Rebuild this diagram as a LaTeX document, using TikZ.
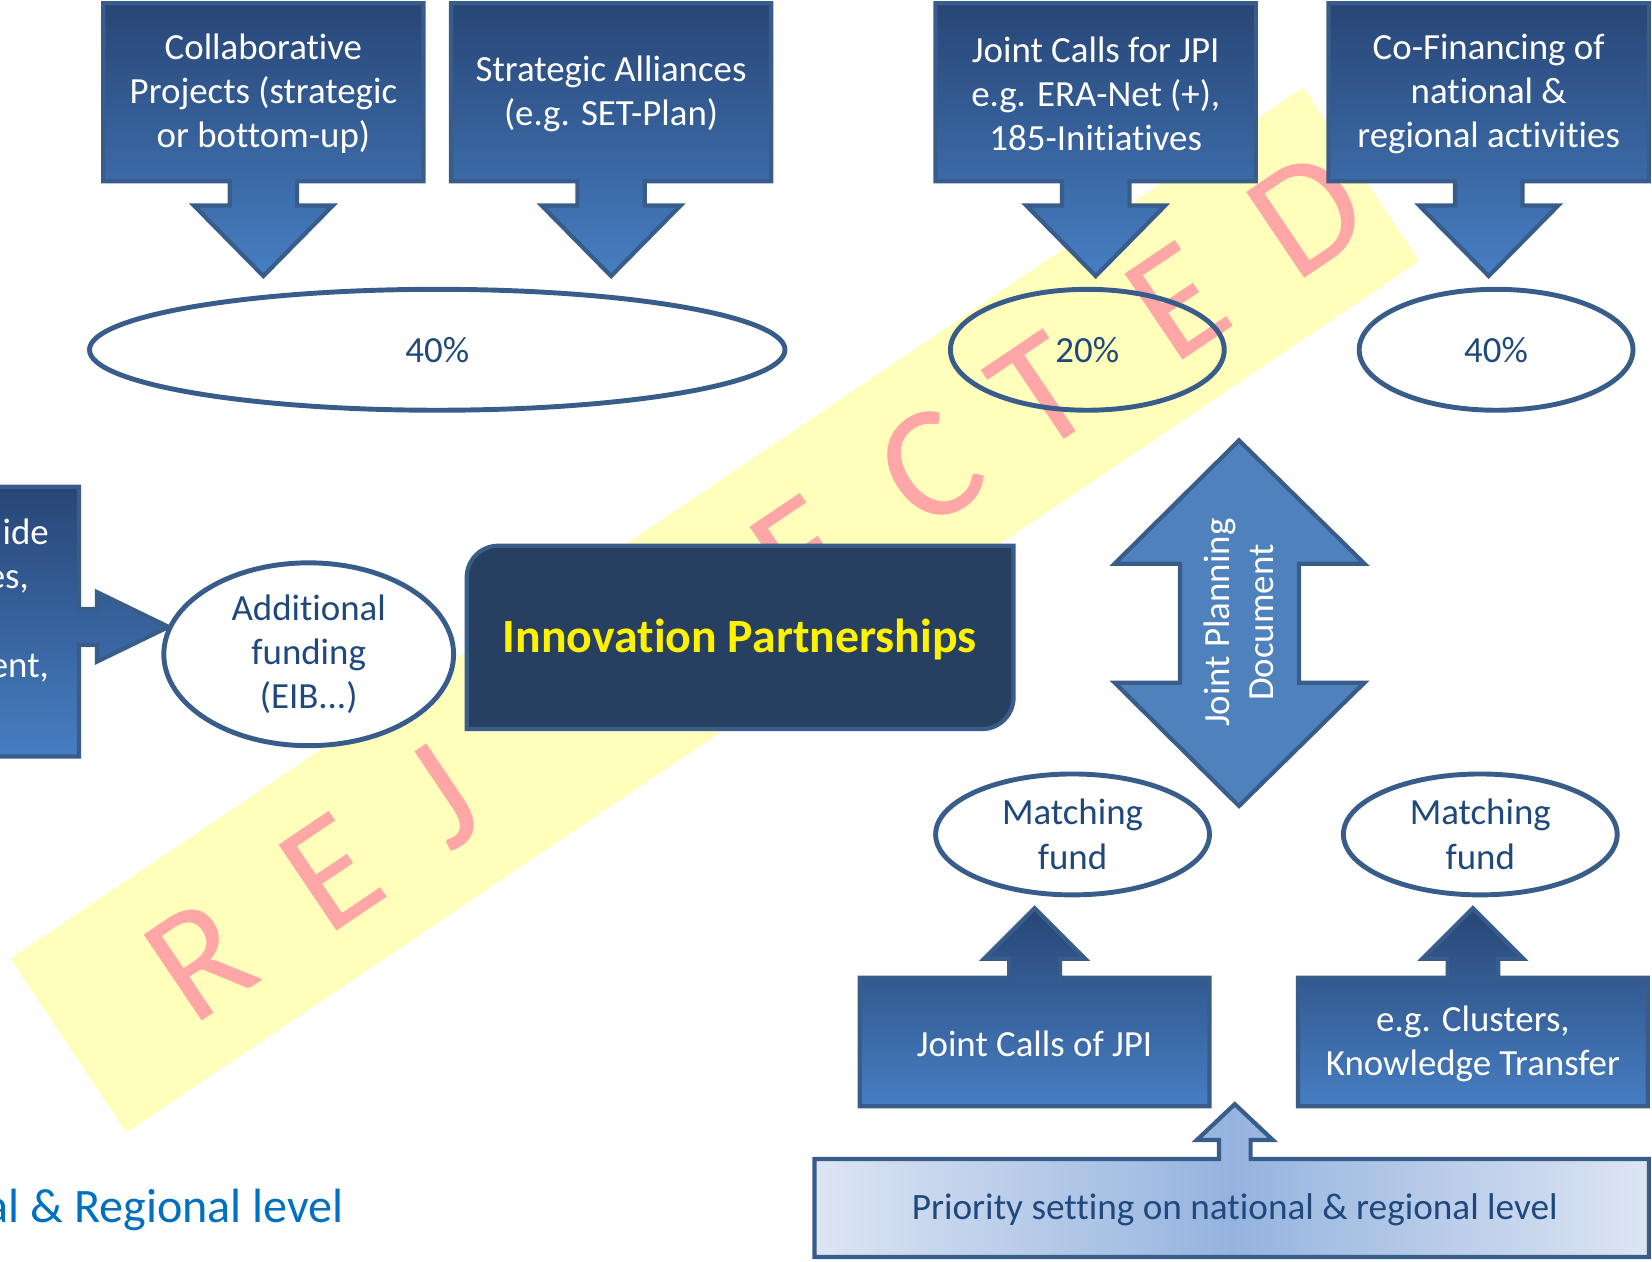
\documentclass[tikz,border=0pt]{standalone}
\usepackage{fontspec}
\setmainfont{Carlito}[Ligatures=NoCommon]
\usetikzlibrary{shapes.geometric}

\definecolor{boxtop}{RGB}{40,70,118}
\definecolor{boxbot}{RGB}{70,126,194}
\definecolor{boxline}{RGB}{56,93,138}
\definecolor{ovaltext}{RGB}{31,73,125}
\definecolor{arrowfill}{RGB}{79,129,189}
\definecolor{ipfill}{RGB}{39,64,97}
\definecolor{stampband}{RGB}{255,255,187}
\definecolor{stamppink}{RGB}{255,166,166}
\definecolor{levelblue}{RGB}{0,112,192}
\definecolor{prioedge}{RGB}{221,229,243}
\definecolor{priomid}{RGB}{149,179,223}

\begin{document}
\begin{tikzpicture}[x=0.01054cm, y=-0.01054cm,
    blockshape/.style={top color=boxtop, bottom color=boxbot, draw=boxline, line width=1.2pt},
    boxtext/.style={text=white, align=center, font=\fontsize{10.5}{12.6}\selectfont},
    ovalnode/.style={ellipse, draw=boxline, line width=1.4pt, inner sep=0pt, text=ovaltext, align=center, font=\fontsize{10.5}{12.6}\selectfont},
    stampchar/.style={text=stamppink, rotate=34, inner sep=0pt, font=\fontsize{46}{46}\selectfont}]

    \useasboundingbox (0,0) rectangle (1568,1197);

    % stamp across the slide
    \fill[stampband] (10,910) -- (120,1075) -- (1347,248) -- (1237,83) -- cycle;
    \foreach \l/\x/\y [count=\i] in {R/190/911, E/314/828, J/420/756, E/761/526, C/883/444, T/988/373, E/1117/286, D/1241/203}
      \node[stampchar] (w\i) at (\x,\y) {\l};

    % top row
    \foreach \cx/\name/\txt in {250/collab/{Collaborative\\Projects (strategic\\or bottom-up)},
                                580/alliance/{Strategic Alliances\\(e.g. SET-Plan)},
                                1040/jointcall/{Joint Calls for JPI\\e.g. ERA-Net (+),\\185-Initiatives},
                                1413/cofin/{Co-Financing of\\national \&\\regional activities}} {
      \draw[blockshape] (\cx-152,3) -- (\cx+152,3) -- (\cx+152,172) -- (\cx+32,172) -- (\cx+32,195) -- (\cx+66,195) -- (\cx,262)
        -- (\cx-66,195) -- (\cx-32,195) -- (\cx-32,172) -- (\cx-152,172) -- cycle;
      \node[boxtext] (\name) at (\cx,89) {\txt};
    }

    \node[ovalnode, minimum width=6.96cm, minimum height=1.21cm] (left40) at (415,332) {40\%};
    \node[ovalnode, minimum width=2.74cm, minimum height=1.21cm] (mid20) at (1032,332) {20\%};
    \node[ovalnode, minimum width=2.74cm, minimum height=1.21cm] (right40) at (1420,332) {40\%};

    % left side
    \draw[blockshape] (-230,462) -- (75,462) -- (75,578) -- (92,578) -- (92,562) -- (160,595) -- (92,628) -- (92,612)
      -- (75,612) -- (75,718) -- (-230,718) -- cycle;
    \node[boxtext, anchor=north east, align=right, inner sep=0pt] (leftbox) at (47,492) {ide\\es,\makebox[0.2cm]{}\\\mbox{}\\ent,};
    \node[ovalnode, fill=white, minimum width=2.9cm, minimum height=1.83cm] (addfund) at (293,621) {Additional\\funding\\(EIB...)};

    \draw[fill=ipfill, draw=boxline, line width=1.2pt] (443,692) -- (443,548) .. controls (443,531.4) and (456.4,518) .. (473,518)
      -- (962,518) -- (962,662) .. controls (962,678.6) and (948.6,692) .. (932,692) -- cycle;
    \node[text=yellow, font=\bfseries\fontsize{13.6}{16}\selectfont] (innov) at (702,607) {Innovation Partnerships};

    % right side
    \draw[fill=arrowfill, draw=boxline, line width=1.2pt] (1176,418) -- (1295,535) -- (1233,535) -- (1233,648) -- (1295,648)
      -- (1176,765) -- (1058,648) -- (1120,648) -- (1120,535) -- (1058,535) -- cycle;
    \node[boxtext, rotate=90] (jpd) at (1176,591) {Joint Planning\\Document};

    \node[ovalnode, fill=white, minimum width=2.74cm, minimum height=1.21cm] (matchl) at (1018,792) {Matching\\fund};
    \node[ovalnode, fill=white, minimum width=2.74cm, minimum height=1.21cm] (matchr) at (1405,792) {Matching\\fund};

    \foreach \cx/\name/\txt in {982/jpicall/{Joint Calls of JPI}, 1398/cluster/{e.g. Clusters,\\Knowledge Transfer}} {
      \draw[blockshape] (\cx,862) -- (\cx+48,910) -- (\cx+24,910) -- (\cx+24,928) -- (\cx+166,928) -- (\cx+166,1050)
        -- (\cx-166,1050) -- (\cx-166,928) -- (\cx-24,928) -- (\cx-24,910) -- (\cx-48,910) -- cycle;
      \node[boxtext] (\name) at (\cx,991) {\txt};
    }

    \draw[left color=prioedge, right color=prioedge, middle color=priomid, draw=boxline, line width=1.2pt]
      (1172,1048) -- (1208,1082) -- (1187,1082) -- (1187,1100) -- (1565,1100) -- (1565,1193) -- (773,1193) -- (773,1100)
      -- (1157,1100) -- (1157,1082) -- (1136,1082) -- cycle;
    \node[text=ovaltext, font=\fontsize{10.6}{12.6}\selectfont] (prio) at (1172,1148) {Priority setting on national \& regional level};

    \node[anchor=base east, inner sep=0pt, text=levelblue, font=\fontsize{13.7}{16}\selectfont] (level) at (327,1160) {al \& Regional level};

\end{tikzpicture}
\end{document}
